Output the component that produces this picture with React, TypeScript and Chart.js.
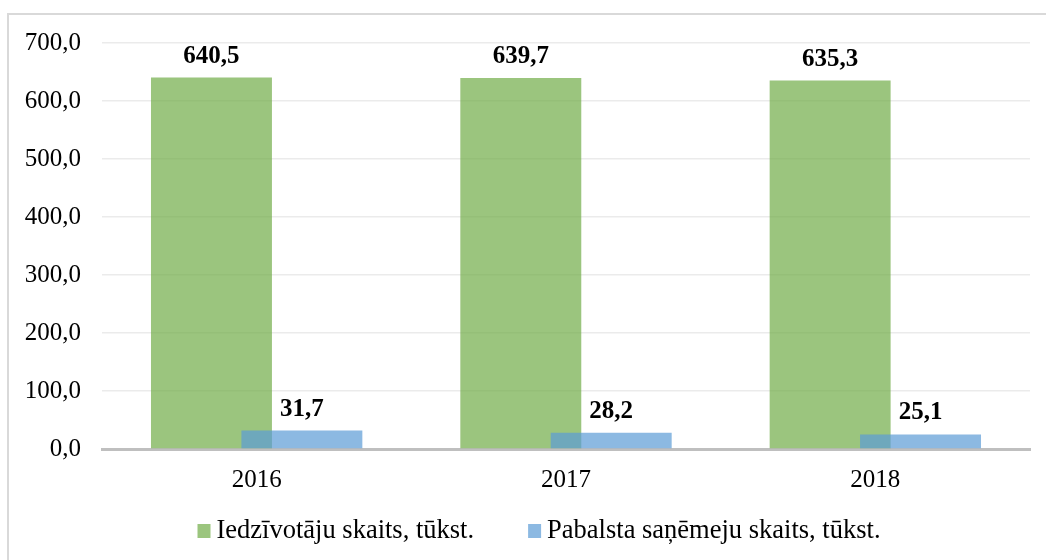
import React, { useEffect, useRef } from "react";
import { Chart, registerables } from "chart.js";

Chart.register(...registerables);

const years = ["2016", "2017", "2018"];
const residents = [640.5, 639.7, 635.3];
const recipients = [31.7, 28.2, 25.1];
const seriesNames = ["Iedzīvotāju skaits, tūkst.", "Pabalsta saņēmeju skaits, tūkst."];
const yTicks = [0, 100, 200, 300, 400, 500, 600, 700];

const GREEN = "rgba(112,173,71,0.7)";
const BLUE = "rgba(91,155,213,0.7)";
const FONT = "'Liberation Serif', 'Times New Roman', serif";
const FS = 25;
const LEGEND_FS = 26.5;

const fmt = (v: number) => v.toFixed(1).replace(".", ",");

// draw the second series after the first so it overlaps on top
const drawOrderPlugin = {
  id: "drawOrder",
  beforeDatasetDraw(chart: any, args: any) {
    if (args.index === 1 && !chart.$drawingTop) return false;
    return true;
  },
  afterDatasetsDraw(chart: any) {
    const meta = chart.getDatasetMeta(1);
    chart.$drawingTop = true;
    const ctx = chart.ctx;
    ctx.save();
    meta.controller.draw();
    ctx.restore();
    chart.$drawingTop = false;
  },
};

const dataLabelPlugin = {
  id: "dataLabels",
  afterDatasetsDraw(chart: any) {
    const ctx = chart.ctx;
    ctx.save();
    ctx.font = `bold ${FS}px ${FONT}`;
    ctx.fillStyle = "#000";
    ctx.textAlign = "center";
    ctx.textBaseline = "alphabetic";
    chart.data.datasets.forEach((ds: any, i: number) => {
      const meta = chart.getDatasetMeta(i);
      meta.data.forEach((bar: any, j: number) => {
        ctx.fillText(fmt(ds.data[j]), bar.x, bar.y - 15);
      });
    });
    ctx.restore();
  },
};

const legendPlugin = {
  id: "customLegend",
  afterDraw(chart: any) {
    const ctx = chart.ctx;
    ctx.save();
    ctx.font = `${LEGEND_FS}px ${FONT}`;
    ctx.textBaseline = "alphabetic";
    ctx.textAlign = "left";
    const boxW = 13, boxH = 14, gapText = 6, gapItem = 54;
    const items = chart.data.datasets.map((d: any) => ({ text: d.label, color: d.backgroundColor }));
    const widths = items.map((it: any) => boxW + gapText + ctx.measureText(it.text).width);
    const total = widths.reduce((a: number, b: number) => a + b, 0) + gapItem * (items.length - 1);
    const cx = 539;
    const boxCy = 531;
    const baseline = 538;
    let x = cx - total / 2;
    items.forEach((it: any, i: number) => {
      ctx.fillStyle = it.color;
      ctx.fillRect(x, boxCy - boxH / 2, boxW, boxH);
      ctx.fillStyle = "#000";
      ctx.fillText(it.text, x + boxW + gapText, baseline);
      x += widths[i] + gapItem;
    });
    ctx.restore();
  },
};

export default function App() {
  const ref = useRef<HTMLCanvasElement>(null);
  useEffect(() => {
    if (!ref.current) return;
    const chart = new Chart(ref.current, {
      type: "bar",
      data: {
        labels: years,
        datasets: [
          {
            label: seriesNames[0],
            data: residents,
            backgroundColor: GREEN,
            categoryPercentage: 0.5845,
            barPercentage: 1.338,
          },
          {
            label: seriesNames[1],
            data: recipients,
            backgroundColor: BLUE,
            categoryPercentage: 0.5845,
            barPercentage: 1.338,
          },
        ],
      },
      options: {
        responsive: false,
        animation: false,
        layout: { padding: { left: 0, right: 16, top: 43, bottom: 0 } },
        plugins: {
          legend: { display: false },
          tooltip: { enabled: false },
        },
        scales: {
          x: {
            grid: { display: false },
            border: { display: true, color: "#bfbfbf", width: 3 },
            ticks: { color: "#000", font: { family: FONT, size: FS }, padding: 8 },
            afterFit: (s: any) => { s.height = 111; },
          },
          y: {
            min: 0,
            max: 700,
            afterBuildTicks: (s: any) => { s.ticks = yTicks.map((v) => ({ value: v })); },
            ticks: {
              color: "#000",
              font: { family: FONT, size: FS },
              padding: 21,
              callback: (v: any) => fmt(Number(v)),
            },
            grid: { color: "#ebebeb", lineWidth: 1.5, drawTicks: false },
            border: { display: false },
            afterFit: (s: any) => { s.width = 102; },
          },
        },
      },
      plugins: [drawOrderPlugin, dataLabelPlugin, legendPlugin],
    });
    return () => chart.destroy();
  }, []);
  return (
    <div>
      <div
        style={{
          position: "fixed",
          left: 7,
          top: 13,
          width: 1100,
          height: 600,
          borderLeft: "2px solid #d9d9d9",
          borderTop: "2px solid #d9d9d9",
          boxSizing: "border-box",
        }}
      />
      <canvas
        ref={ref}
        width={1046}
        height={560}
        style={{ position: "fixed", left: 0, top: 0, width: 1046, height: 560 }}
      />
    </div>
  );
}
